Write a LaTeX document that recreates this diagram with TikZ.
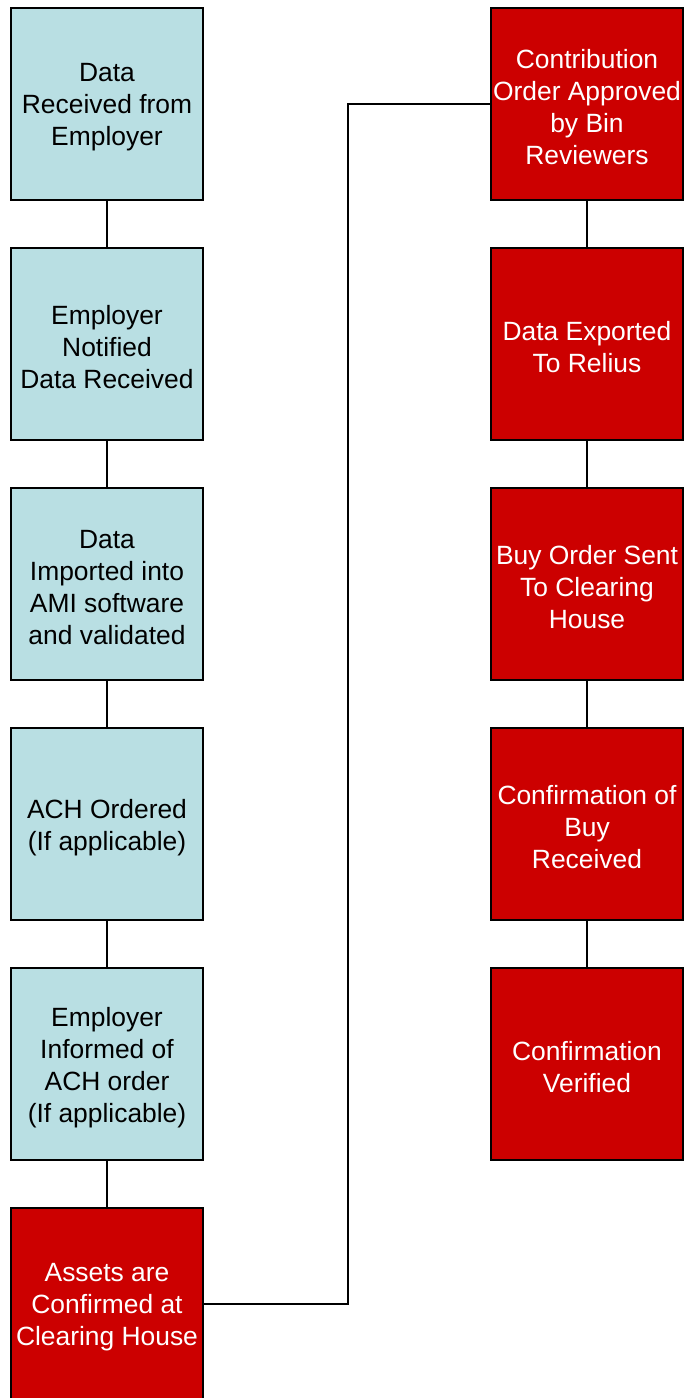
\documentclass[tikz,border=0pt]{standalone}
\usepackage{fontspec}
\setmainfont{Liberation Sans}
\definecolor{stepblue}{RGB}{185,223,227}
\definecolor{stepred}{RGB}{204,0,0}
\tikzset{every picture/.style={line width=0.75pt}}
\tikzset{
  stepbox/.style={draw=black, line width=1.5pt, minimum width=144pt, minimum height=144pt, inner sep=0pt},
  steptext/.style={align=center, inner sep=0pt, yshift=-2.5pt, font=\fontsize{19.8}{24}\selectfont},
  bluebox/.style={stepbox, fill=stepblue},
  redbox/.style={stepbox, fill=stepred},
  bluetext/.style={steptext, text=black},
  redtext/.style={steptext, text=white},
  link/.style={draw=black, line width=1.5pt}
}
\begin{document}
\begin{tikzpicture}[x=0.75pt,y=0.75pt,yscale=-1,xscale=1]
%set diagram left start at 0, and has height of 1398
\useasboundingbox (0,0) rectangle (686,1398);

%Shape: Rectangle [left column]
\node [bluebox, label={[bluetext]center:{Data\\Received from\\Employer}}] (received) at (107,104) {};
\node [bluebox, label={[bluetext]center:{Employer\\Notified\\Data Received}}] (notified) at (107,344) {};
\node [bluebox, label={[bluetext]center:{Data\\Imported into\\AMI software\\and validated}}] (imported) at (107,584) {};
\node [bluebox, label={[bluetext]center:{ACH Ordered\\(If applicable)}}] (ach) at (107,824) {};
\node [bluebox, label={[bluetext]center:{Employer\\Informed of\\ACH order\\(If applicable)}}] (informed) at (107,1064) {};
\node [redbox, label={[redtext]center:{Assets are\\Confirmed at\\Clearing House}}] (assets) at (107,1304) {};

%Shape: Rectangle [right column]
\node [redbox, label={[redtext]center:{Contribution\\Order Approved\\by Bin\\Reviewers}}] (approved) at (587,104) {};
\node [redbox, label={[redtext]center:{Data Exported\\To Relius}}] (exported) at (587,344) {};
\node [redbox, label={[redtext]center:{Buy Order Sent\\To Clearing\\House}}] (buyorder) at (587,584) {};
\node [redbox, label={[redtext]center:{Confirmation of\\Buy\\Received}}] (buyconf) at (587,824) {};
\node [redbox, label={[redtext]center:{Confirmation\\Verified}}] (verified) at (587,1064) {};

%Straight Lines
\draw [link] (received) -- (notified);
\draw [link] (notified) -- (imported);
\draw [link] (imported) -- (ach);
\draw [link] (ach) -- (informed);
\draw [link] (informed) -- (assets);
\draw [link] (approved) -- (exported);
\draw [link] (exported) -- (buyorder);
\draw [link] (buyorder) -- (buyconf);
\draw [link] (buyconf) -- (verified);

%Elbow connector
\draw [link] (assets.east) -- ++(144,0) |- (approved.west);

\end{tikzpicture}
\end{document}
